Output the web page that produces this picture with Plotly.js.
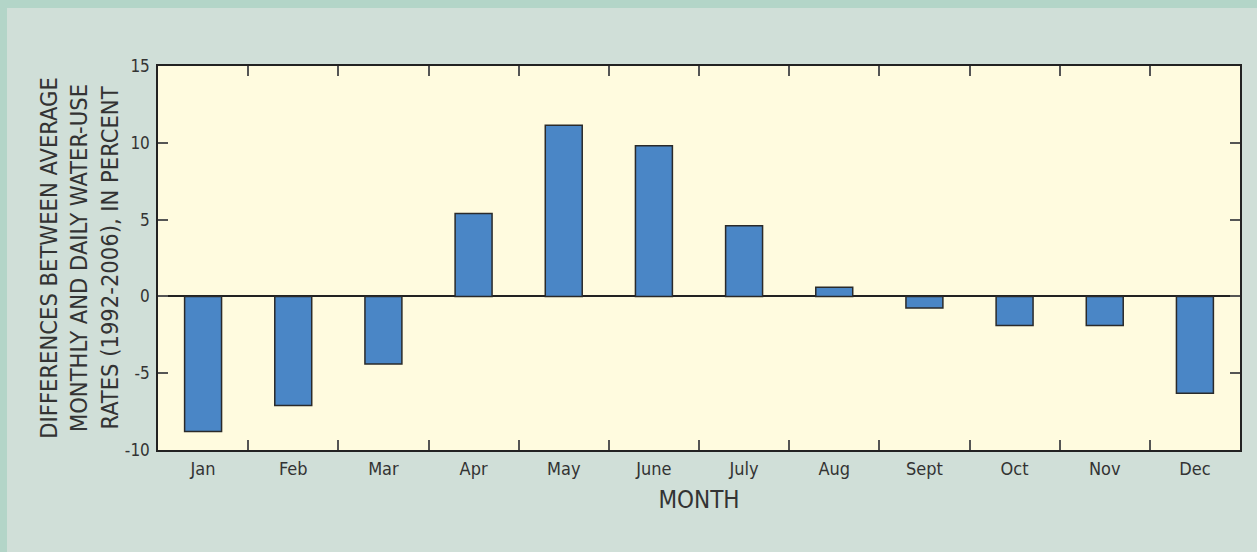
<!DOCTYPE html>
<html>
<head>
<meta charset="utf-8">
<script src="https://cdn.plot.ly/plotly-3.0.1.min.js"></script>
<style>
html, body { margin:0; padding:0; background:#b3d5c8; width:1257px; height:552px; overflow:hidden; }
#chart { position:absolute; left:7px; top:8px; width:1250px; height:544px; }
</style>
</head>
<body>
<div id="chart"></div>
<script>
const months = ["Jan","Feb","Mar","Apr","May","June","July","Aug","Sept","Oct","Nov","Dec"];
const differences = [-8.8, -7.1, -4.4, 5.4, 11.15, 9.8, 4.6, 0.6, -0.75, -1.9, -1.9, -6.3];
const yTicks = [-10, -5, 0, 5, 10, 15];

const FONT = "'DejaVu Sans Condensed', 'Liberation Sans Narrow', 'Roboto', sans-serif";

const trace = {
  type: 'bar',
  x: months,
  y: differences,
  width: 0.41,
  marker: { color: '#4a86c6', line: { color: '#2a2a2a', width: 1.5 } },
  hoverinfo: 'x+y'
};

const layout = {
  width: 1250, height: 544,
  paper_bgcolor: '#d0dfd8',
  plot_bgcolor: '#fffbdf',
  margin: { l: 151, r: 17, t: 58, b: 102 },
  showlegend: false,
  font: { family: FONT, color: '#333333' },
  xaxis: {
    type: 'category',
    tickson: 'boundaries',
    ticks: 'inside', ticklen: 10, tickwidth: 1.5, tickcolor: '#555555',
    showline: true, linecolor: '#222222', linewidth: 1.5, mirror: 'ticks',
    showgrid: false,
    ticklabelstandoff: 2,
    tickfont: { size: 18, color: '#333333', family: FONT },
    title: { text: 'MONTH', font: { size: 24, color: '#333333', family: FONT }, standoff: 13 }
  },
  yaxis: {
    range: [-10, 15],
    tickvals: yTicks,
    ticktext: yTicks.map(String),
    ticks: 'inside', ticklen: 10, tickwidth: 1.5, tickcolor: '#555555',
    showline: true, linecolor: '#222222', linewidth: 1.5, mirror: 'ticks',
    showgrid: false,
    zeroline: true, zerolinecolor: '#222222', zerolinewidth: 1.5,
    ticklabelstandoff: 3,
    tickfont: { size: 17, color: '#333333', family: FONT },
    title: { text: 'DIFFERENCES BETWEEN AVERAGE<br>MONTHLY AND DAILY WATER-USE<br>RATES (1992-2006), IN PERCENT',
             font: { size: 23.5, color: '#333333', family: FONT }, standoff: 0 }
  }
};

Plotly.newPlot('chart', [trace], layout, { displayModeBar: false });
</script>
</body>
</html>
